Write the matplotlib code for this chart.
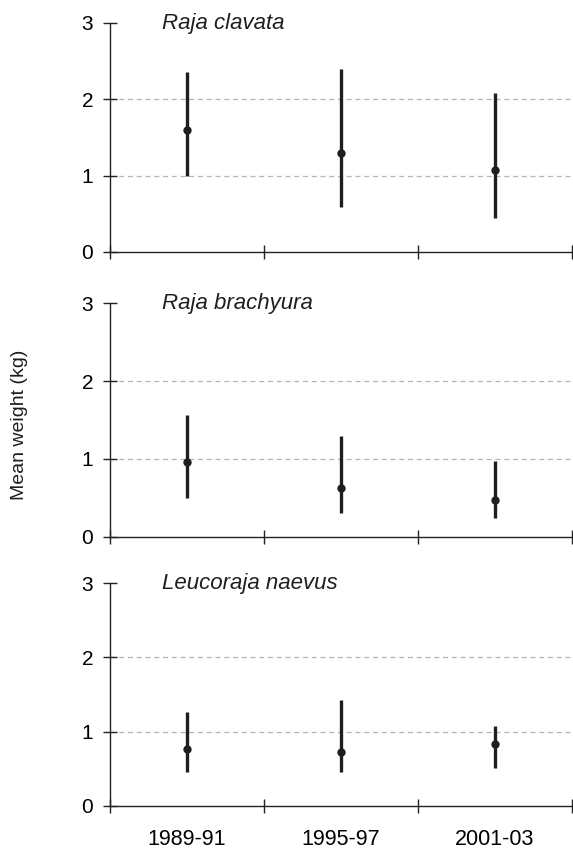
import matplotlib
matplotlib.use("Agg")
import matplotlib.pyplot as plt
import numpy as np

plt.rcParams['font.family'] = ['Liberation Sans', 'DejaVu Sans']

periods = ["1989-91", "1995-97", "2001-03"]
species = ["Raja clavata", "Raja brachyura", "Leucoraja naevus"]

means = [
    [1.60, 1.30, 1.07],
    [0.96, 0.62, 0.47],
    [0.76, 0.73, 0.83],
]
lower = [
    [1.00, 0.59, 0.44],
    [0.50, 0.30, 0.24],
    [0.46, 0.46, 0.51],
]
upper = [
    [2.36, 2.40, 2.08],
    [1.57, 1.29, 0.97],
    [1.26, 1.42, 1.07],
]

W, H = 573, 850
fig = plt.figure(figsize=(W / 100, H / 100), dpi=100)

# panel pixel extents: (y of value 0, y of value 3)
panels_px = [(252.0, 23.0), (536.7, 303.3), (805.7, 583.3)]
left_px, right_px = 110.0, 572.0

col = "#1e1e1e"
for i, (y0, y3) in enumerate(panels_px):
    ax = fig.add_axes([left_px / W, 1 - y0 / H, (right_px - left_px) / W, (y0 - y3) / H])
    x = np.arange(len(periods)) + 0.5
    m = np.array(means[i])
    lo = np.array(lower[i])
    up = np.array(upper[i])
    ax.vlines(x, lo, up, color=col, lw=2.4, zorder=3)
    ax.plot(x, m, 'o', color=col, ms=5, zorder=4)
    for g in (1, 2):
        ax.axhline(g, color="#b5b5b5", lw=0.9, ls=(0, (4, 3)), zorder=1)
    ax.set_xlim(0, 3)
    ax.set_ylim(0, 3)
    for s in ("top", "right"):
        ax.spines[s].set_visible(False)
    for s in ("left", "bottom"):
        ax.spines[s].set_linewidth(1.0)
        ax.spines[s].set_color("#222222")
    ax.spines["left"].set_bounds(0, 3)
    ax.set_yticks([0, 1, 2, 3])
    ax.set_xticks([0, 1, 2, 3])
    ax.tick_params(axis="both", which="major", direction="inout", length=10,
                   width=1.0, color="#222222", labelsize=15, pad=7)
    ax.set_xticklabels([])
    ax.set_xticks(x, minor=True)
    if i == 2:
        ax.set_xticklabels(periods, minor=True)
    else:
        ax.set_xticklabels([], minor=True)
    ax.tick_params(axis="x", which="minor", length=0, labelsize=15.5, pad=17)
    px_per_unit = (y0 - y3) / 3.0
    ax.text(0.34, 3.0 - 6.0 / px_per_unit, species[i], style="italic", fontsize=16,
            va="baseline", ha="left", color="#1e1e1e")
    ax.patch.set_visible(False)

fig.text(20 / W, 0.5, "Mean weight (kg)", rotation=90, va="center", ha="center",
         fontsize=14, color="#1e1e1e")

fig.savefig("out.png", dpi=100)
